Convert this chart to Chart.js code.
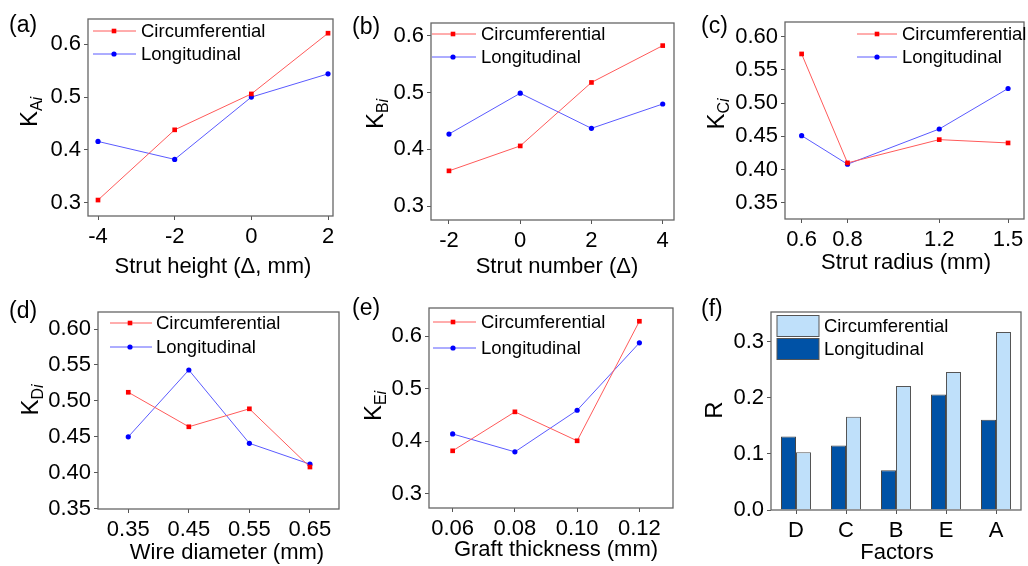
<!DOCTYPE html>
<html>
<head>
<meta charset="utf-8">
<title>Sensitivity of K factors</title>
<script src="https://cdn.jsdelivr.net/npm/chart.js"></script>
<style>
  body { margin: 0; background: #fff; }
  #wrap { position: relative; width: 1028px; height: 566px; overflow: hidden; }
  #wrap canvas { position: absolute; left: 0; top: 0; }
</style>
</head>
<body>
<div id="wrap">
  <canvas id="pa" width="1028" height="566"></canvas>
  <canvas id="pb" width="1028" height="566"></canvas>
  <canvas id="pc" width="1028" height="566"></canvas>
  <canvas id="pd" width="1028" height="566"></canvas>
  <canvas id="pe" width="1028" height="566"></canvas>
  <canvas id="pf" width="1028" height="566"></canvas>
</div>
<script>
const seriesNames = ['Circumferential', 'Longitudinal'];

// (a) strut height
const heightX = [-4, -2, 0, 2];
const heightCirc = [0.305, 0.438, 0.506, 0.621];
const heightLong = [0.416, 0.382, 0.500, 0.544];
const heightYTicks = [0.3, 0.4, 0.5, 0.6];

// (b) strut number
const numberX = [-2, 0, 2, 4];
const numberCirc = [0.362, 0.406, 0.518, 0.583];
const numberLong = [0.427, 0.499, 0.437, 0.480];
const numberYTicks = [0.3, 0.4, 0.5, 0.6];

// (c) strut radius
const radiusX = [0.6, 0.8, 1.2, 1.5];
const radiusCirc = [0.574, 0.410, 0.445, 0.440];
const radiusLong = [0.451, 0.408, 0.461, 0.522];
const radiusYTicks = [0.35, 0.40, 0.45, 0.50, 0.55, 0.60];

// (d) wire diameter
const wireX = [0.35, 0.45, 0.55, 0.65];
const wireCirc = [0.512, 0.464, 0.489, 0.408];
const wireLong = [0.450, 0.543, 0.441, 0.412];
const wireYTicks = [0.35, 0.40, 0.45, 0.50, 0.55, 0.60];

// (e) graft thickness
const graftX = [0.06, 0.08, 0.10, 0.12];
const graftCirc = [0.382, 0.456, 0.401, 0.628];
const graftLong = [0.414, 0.380, 0.459, 0.587];
const graftYTicks = [0.3, 0.4, 0.5, 0.6];

// (f) range R per factor
const factors = ['D', 'C', 'B', 'E', 'A'];
const rangeCirc = [0.103, 0.166, 0.221, 0.246, 0.317];
const rangeLong = [0.131, 0.115, 0.071, 0.206, 0.161];
const rangeYTicks = [0.0, 0.1, 0.2, 0.3];

const FONT = '"Liberation Sans", Arial, sans-serif';
const W = 1028, H = 566;
const RED_LINE = '#ff5a5a', RED_PT = '#ff0000';
const BLUE_LINE = '#5a5aff', BLUE_PT = '#0000ff';
const DARK_BAR = '#0052a6', LIGHT_BAR = '#bfe0fa';

Chart.defaults.font.family = FONT;
Chart.defaults.font.size = 22;
Chart.defaults.color = '#000';

function drawYTitle(ctx, t) {
  ctx.save();
  ctx.translate(t.x, t.y);
  ctx.rotate(-Math.PI / 2);
  ctx.textBaseline = 'alphabetic';
  ctx.fillStyle = '#000';
  const big = '24px ' + FONT, small = '16px ' + FONT, it = 'italic 16px ' + FONT;
  ctx.font = big; const w1 = ctx.measureText(t.main).width;
  ctx.font = small; const w2 = t.sub ? ctx.measureText(t.sub).width : 0;
  ctx.font = it; const w3 = t.sub ? ctx.measureText('i').width : 0;
  let x = -(w1 + w2 + w3) / 2;
  ctx.font = big; ctx.fillText(t.main, x, 0); x += w1;
  if (t.sub) {
    ctx.font = small; ctx.fillText(t.sub, x, 5); x += w2;
    ctx.font = it; ctx.fillText('i', x, 5);
  }
  ctx.restore();
}

// frame, legend, axis titles and panel tag
function decor(p) {
  return {
    id: 'decor',
    afterDraw(chart) {
      const ctx = chart.ctx, a = chart.chartArea;
      ctx.save();
      ctx.strokeStyle = '#666';
      ctx.lineWidth = 1.3;
      ctx.strokeRect(a.left, a.top, a.right - a.left, a.bottom - a.top);

      ctx.fillStyle = '#000';
      ctx.textBaseline = 'middle';
      ctx.textAlign = 'center';
      ctx.font = '22px ' + FONT;
      ctx.fillText(p.xTitle, p.xt[0], p.xt[1]);
      ctx.textAlign = 'left';
      ctx.font = '23px ' + FONT;
      ctx.fillText(p.tag, p.tg[0], p.tg[1]);

      const lg = p.legend;
      ctx.font = '18.5px ' + FONT;
      chart.data.datasets.forEach((ds, i) => {
        const k = seriesNames.indexOf(ds.label);
        const y = lg.y[k];
        if (p.bars) {
          ctx.fillStyle = ds.backgroundColor;
          ctx.fillRect(lg.x1, y - 10.5, lg.x2 - lg.x1, 21);
          ctx.strokeStyle = '#555';
          ctx.lineWidth = 1;
          ctx.strokeRect(lg.x1, y - 10.5, lg.x2 - lg.x1, 21);
        } else {
          ctx.strokeStyle = ds.borderColor;
          ctx.lineWidth = 1;
          ctx.beginPath();
          ctx.moveTo(lg.x1, y);
          ctx.lineTo(lg.x2, y);
          ctx.stroke();
          ctx.fillStyle = ds.pointBackgroundColor;
          ctx.beginPath();
          if (ds.pointStyle === 'rect') ctx.rect(lg.m - 2.3, y - 2.3, 4.6, 4.6);
          else ctx.arc(lg.m, y, 2.6, 0, Math.PI * 2);
          ctx.fill();
        }
        ctx.fillStyle = '#000';
        ctx.fillText(ds.label, lg.tx, y + 1);
      });
      ctx.restore();
      drawYTitle(ctx, p.yt);
    }
  };
}

function scales(p, xScale) {
  const a = p.area;
  return {
    x: Object.assign({
      afterFit: s => { s.height = H - a.bottom; },
      grid: { drawOnChartArea: false, tickLength: 4, color: '#555', offset: false },
      border: { display: false },
      ticks: { padding: 4, maxRotation: 0, autoSkip: false }
    }, xScale),
    y: {
      min: p.yRange[0], max: p.yRange[1],
      afterFit: s => { s.width = a.left; },
      afterBuildTicks: s => { s.ticks = p.yTicks.map(v => ({ value: v })); },
      grid: { drawOnChartArea: false, tickLength: 4, color: '#555' },
      border: { display: false },
      ticks: { padding: 3, callback: v => v.toFixed(p.yDec) }
    }
  };
}

function linePanel(id, p) {
  const pts = (xs, ys) => xs.map((x, i) => ({ x: x, y: ys[i] }));
  new Chart(document.getElementById(id), {
    type: 'line',
    data: {
      datasets: [{
        label: seriesNames[0],
        data: pts(p.x, p.circ),
        borderColor: RED_LINE, borderWidth: 1,
        pointStyle: 'rect', pointRadius: 3.3, pointBorderWidth: 0,
        pointBackgroundColor: RED_PT
      }, {
        label: seriesNames[1],
        data: pts(p.x, p.long),
        borderColor: BLUE_LINE, borderWidth: 1,
        pointStyle: 'circle', pointRadius: 2.6, pointBorderWidth: 0,
        pointBackgroundColor: BLUE_PT
      }]
    },
    options: {
      responsive: false, animation: false,
      layout: { padding: { left: 0, top: p.area.top, right: W - p.area.right, bottom: 0 } },
      plugins: { legend: { display: false }, tooltip: { enabled: false } },
      scales: scales(p, {
        type: 'linear', min: p.xRange[0], max: p.xRange[1],
        afterBuildTicks: s => { s.ticks = p.x.map(v => ({ value: v })); },
        ticks: { padding: 4, maxRotation: 0, autoSkip: false, callback: v => v.toFixed(p.xDec) }
      })
    },
    plugins: [decor(p)]
  });
}

linePanel('pa', {
  x: heightX, circ: heightCirc, long: heightLong, yTicks: heightYTicks,
  area: { left: 88, top: 19, right: 333, bottom: 216 },
  xRange: [-4.261, 2.13], yRange: [0.2748, 0.6479], xDec: 0, yDec: 1,
  xTitle: 'Strut height (\u0394, mm)', xt: [213, 267],
  yt: { main: 'K', sub: 'A', x: 37, y: 112 }, tag: '(a)', tg: [9, 26],
  legend: { x1: 93, x2: 136, m: 114, tx: 141, y: [31, 54] }
});

linePanel('pb', {
  x: numberX, circ: numberCirc, long: numberLong, yTicks: numberYTicks,
  area: { left: 431, top: 23, right: 674, bottom: 220 },
  xRange: [-2.505, 4.317], yRange: [0.2753, 0.6229], xDec: 0, yDec: 1,
  xTitle: 'Strut number (\u0394)', xt: [557, 267],
  yt: { main: 'K', sub: 'B', x: 383, y: 114 }, tag: '(b)', tg: [352, 28],
  legend: { x1: 432, x2: 476, m: 453, tx: 481, y: [34, 57] }
});

linePanel('pc', {
  x: radiusX, circ: radiusCirc, long: radiusLong, yTicks: radiusYTicks,
  area: { left: 785, top: 22, right: 1025, bottom: 219 },
  xRange: [0.5275, 1.5695], yRange: [0.3255, 0.6221], xDec: 1, yDec: 2,
  xTitle: 'Strut radius (mm)', xt: [906, 263],
  yt: { main: 'K', sub: 'C', x: 724, y: 114 }, tag: '(c)', tg: [701, 27],
  legend: { x1: 857, x2: 897, m: 877, tx: 902, y: [34, 57] }
});

linePanel('pd', {
  x: wireX, circ: wireCirc, long: wireLong, yTicks: wireYTicks,
  area: { left: 98, top: 312, right: 339, bottom: 509 },
  xRange: [0.30, 0.698], yRange: [0.3496, 0.6237], xDec: 2, yDec: 2,
  xTitle: 'Wire diameter (mm)', xt: [227, 553],
  yt: { main: 'K', sub: 'D', x: 38, y: 400 }, tag: '(d)', tg: [9, 312],
  legend: { x1: 110, x2: 152, m: 130, tx: 156, y: [323, 347] }
});

linePanel('pe', {
  x: graftX, circ: graftCirc, long: graftLong, yTicks: graftYTicks,
  area: { left: 429, top: 308, right: 673, bottom: 508 },
  xRange: [0.0524, 0.1308], yRange: [0.2734, 0.6532], xDec: 2, yDec: 1,
  xTitle: 'Graft thickness (mm)', xt: [556, 550],
  yt: { main: 'K', sub: 'E', x: 381, y: 406 }, tag: '(e)', tg: [352, 309],
  legend: { x1: 433, x2: 476, m: 453, tx: 481, y: [322, 348] }
});

// (f) grouped bars, longitudinal drawn first so it sits on the left
const pf = {
  bars: true, yTicks: rangeYTicks,
  area: { left: 771, top: 312, right: 1021, bottom: 510 },
  yRange: [0, 0.3528], yDec: 1,
  xTitle: 'Factors', xt: [897, 553],
  yt: { main: 'R', x: 722, y: 410 }, tag: '(f)', tg: [701, 310],
  legend: { x1: 777, x2: 819, tx: 824, y: [326, 349] }
};
new Chart(document.getElementById('pf'), {
  type: 'bar',
  data: {
    labels: factors,
    datasets: [{
      label: seriesNames[1], data: rangeLong,
      backgroundColor: DARK_BAR, borderColor: '#444', borderWidth: 1,
      categoryPercentage: 0.6, barPercentage: 1.0
    }, {
      label: seriesNames[0], data: rangeCirc,
      backgroundColor: LIGHT_BAR, borderColor: '#555', borderWidth: 1,
      categoryPercentage: 0.6, barPercentage: 1.0
    }]
  },
  options: {
    responsive: false, animation: false,
    layout: { padding: { left: 0, top: pf.area.top, right: W - pf.area.right, bottom: 0 } },
    plugins: { legend: { display: false }, tooltip: { enabled: false } },
    scales: scales(pf, { type: 'category' })
  },
  plugins: [decor(pf)]
});
</script>
</body>
</html>
